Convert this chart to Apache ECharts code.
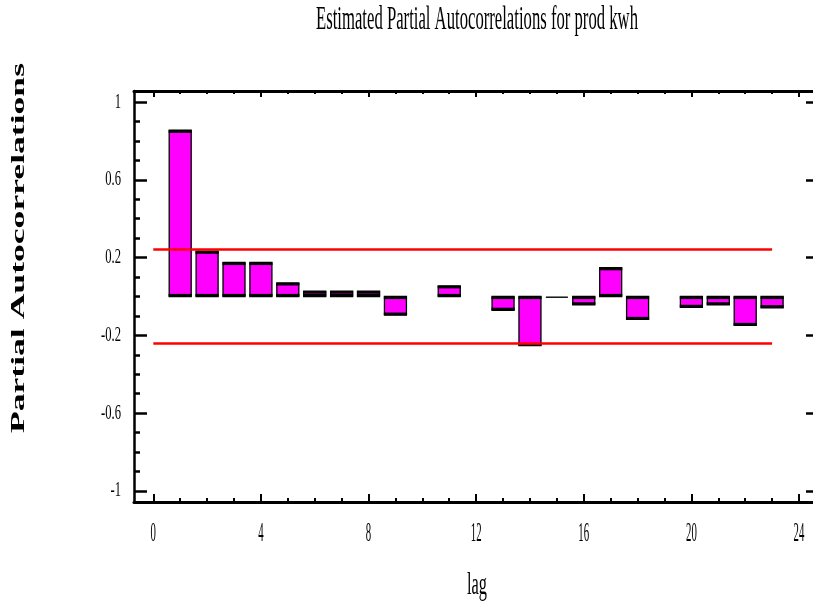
<!DOCTYPE html>
<html>
<head>
<meta charset="utf-8">
<script src="https://cdn.jsdelivr.net/npm/echarts@6/dist/echarts.min.js"></script>
<style>html,body{margin:0;padding:0;background:#fff}#c{width:813px;height:614px}</style>
</head>
<body>
<div id="c"></div>
<script>
// ---- data ----
const lags = [1,2,3,4,5,6,7,8,9,10,11,12,13,14,15,16,17,18,19,20,21,22,23];
const pacf = [0.855,0.233,0.175,0.175,0.070,0.028,0.028,0.028,-0.096,0,0.055,0,-0.071,-0.253,-0.006,-0.043,0.148,-0.118,0,-0.056,-0.043,-0.149,-0.058];
const limitLags = [0, 23];
const upperLimit = 0.242;
const lowerLimit = -0.242;
const xTickValues = [0,4,8,12,16,20,24];
const xTickLabels = ['0','4','8','12','16','20','24'];
const xMinorTicks = [0,1,2,3,4,5,6,7,8,9,10,11,12,13,14,15,16,17,18,19,20,21,22,23,24];
const yTickValues = [1,0.6,0.2,-0.2,-0.6,-1];
const yTickLabels = ['1','0.6','0.2','-0.2','-0.6','-1'];
const yMinorTicks = [-1,-0.9,-0.8,-0.7,-0.6,-0.5,-0.4,-0.3,-0.2,-0.1,0,0.1,0.2,0.3,0.4,0.5,0.6,0.7,0.8,0.9,1];
const titleText = 'Estimated Partial Autocorrelations for prod kwh';
const xName = 'lag';
const yName = 'Partial Autocorrelations';

const SERIF = '"Liberation Serif", "Times New Roman", serif';
const chart = echarts.init(document.getElementById('c'), null, {renderer: 'canvas'});

const XMIN = -0.717, XMAX = 24.52, YMIN = -1.057, YMAX = 1.057;
function xAx(pos, ticks, len, lineShow) {
  return {
    type: 'value', position: pos, min: XMIN, max: XMAX,
    axisLine: {show: lineShow, onZero: false, lineStyle: {color: '#000', width: 3}},
    axisTick: {show: true, inside: true, length: len, customValues: ticks, lineStyle: {color: '#000', width: 2}},
    axisLabel: {show: false}, splitLine: {show: false}
  };
}
function yAx(pos, ticks, len, lineShow) {
  return {
    type: 'value', position: pos, min: YMIN, max: YMAX,
    axisLine: {show: lineShow, onZero: false, lineStyle: {color: '#000', width: 2.5}},
    axisTick: {show: true, inside: true, length: len, customValues: ticks, lineStyle: {color: '#000', width: 2.5}},
    axisLabel: {show: false}, splitLine: {show: false}
  };
}

const barData = lags.map((l, i) => [l, pacf[i]]);

chart.setOption({
  animation: false,
  backgroundColor: '#fff',
  grid: {left: 134, right: 0, top: 91, bottom: 112, containLabel: false},
  xAxis: [
    xAx('bottom', xTickValues, 8, true),
    xAx('bottom', xMinorTicks, 4, false),
    xAx('top', xTickValues, 6, true),
    xAx('top', xMinorTicks, 3, false)
  ],
  yAxis: [
    yAx('left', yTickValues, 13, true),
    yAx('left', yMinorTicks, 6, false),
    yAx('right', yTickValues, 7, false)
  ],
  series: [
    {
      type: 'custom', xAxisIndex: 0, yAxisIndex: 0, data: barData, z: 2,
      renderItem: function (params, api) {
        const lag = api.value(0), v = api.value(1);
        if (v === 0) return null;
        const p0 = api.coord([lag, 0]);
        const p1 = api.coord([lag, v]);
        const w = 22, edge = 2.6;
        const x = p0[0] - w / 2;
        const top = Math.min(p0[1], p1[1]);
        const h = Math.abs(p1[1] - p0[1]);
        const children = [];
        if (h <= 2 * edge) {
          children.push({type: 'rect', shape: {x: x, y: top, width: w, height: Math.max(h, 1.4)}, style: {fill: '#000'}});
        } else {
          children.push({type: 'rect', shape: {x: x, y: top, width: w, height: h}, style: {fill: '#ff00ff', stroke: '#000', lineWidth: 1.3}});
          children.push({type: 'rect', shape: {x: x - 0.6, y: top, width: w + 1.2, height: edge}, style: {fill: '#000'}});
          children.push({type: 'rect', shape: {x: x - 0.6, y: top + h - edge, width: w + 1.2, height: edge}, style: {fill: '#000'}});
        }
        return {type: 'group', children: children};
      }
    },
    {
      type: 'line', xAxisIndex: 0, yAxisIndex: 0, z: 3, showSymbol: false, silent: true,
      data: limitLags.map(l => [l, upperLimit]),
      lineStyle: {color: '#ff0000', width: 2.6}
    },
    {
      type: 'line', xAxisIndex: 0, yAxisIndex: 0, z: 3, showSymbol: false, silent: true,
      data: limitLags.map(l => [l, lowerLimit]),
      lineStyle: {color: '#ff0000', width: 2.6}
    }
  ]
});

// ---- text (condensed like the original), positioned via the axes ----
const mctx = document.createElement('canvas').getContext('2d');
function measure(text, font) { mctx.font = font; return mctx.measureText(text).width; }

const graphics = [];
function addText(text, x, y, size, targetW, opts) {
  opts = opts || {};
  const weight = opts.bold ? 'bold ' : '';
  const font = weight + size + 'px ' + SERIF;
  const w = measure(text, font);
  const sx = targetW ? targetW / w : (opts.scaleX || 1);
  graphics.push({
    type: 'text', x: x, y: y, rotation: opts.rotation || 0, scaleX: sx, silent: true, z: 100,
    style: {text: text, font: font, fill: '#000', align: opts.align || 'center', verticalAlign: 'middle'}
  });
}

addText(titleText, 477, 20, 34, 322);
addText(xName, 477, 586, 32, 20);
addText(yName, 19, 248, 19, 370, {bold: true, rotation: Math.PI / 2});

xTickValues.forEach((v, i) => {
  const px = chart.convertToPixel({xAxisIndex: 0}, v);
  addText(xTickLabels[i], px, 534, 27, 0, {scaleX: 0.4});
});
yTickValues.forEach((v, i) => {
  const py = chart.convertToPixel({yAxisIndex: 0}, v);
  addText(yTickLabels[i], 121, py, 21, 0, {scaleX: 0.6, align: 'right'});
});

chart.setOption({graphic: graphics});
</script>
</body>
</html>
